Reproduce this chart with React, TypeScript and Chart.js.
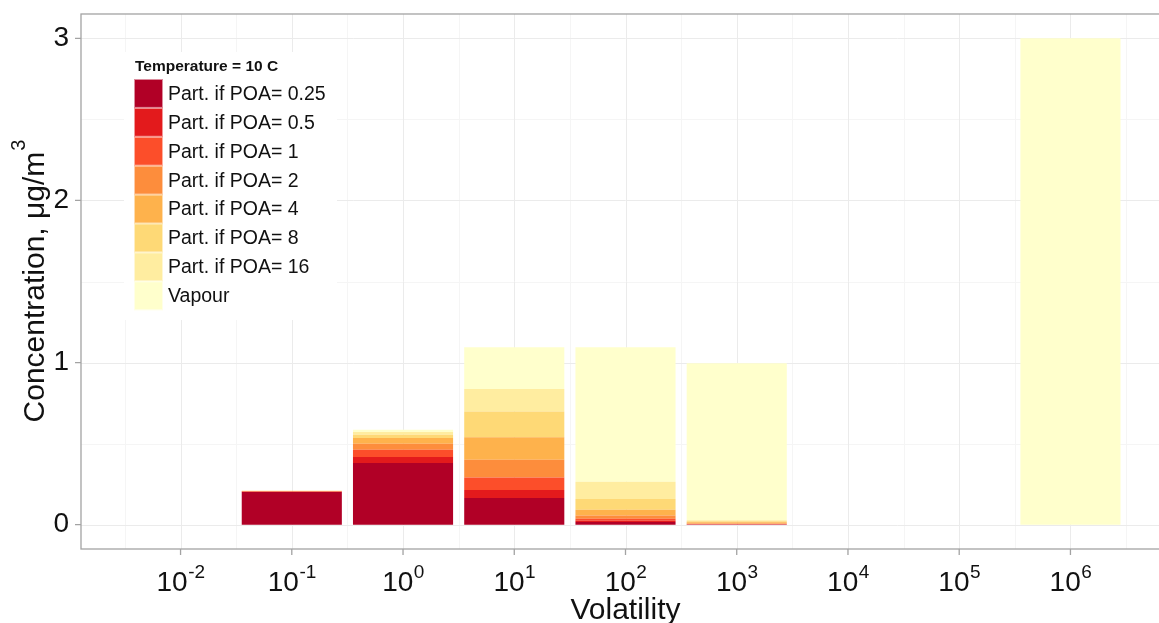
import React, { useEffect, useRef } from "react";
import { Chart, registerables } from "chart.js";

Chart.register(...registerables);

// ---- data ----
// bar centres, as log10(volatility)
const volatilityExponents = [-1, 0, 1, 2, 3, 6];
// x axis tick exponents (labels 10^n)
const axisExponents = [-2, -1, 0, 1, 2, 3, 4, 5, 6];
// y axis ticks
const yTicks = [0, 1, 2, 3];

const seriesLabels = [
  "Part. if POA= 0.25",
  "Part. if POA= 0.5",
  "Part. if POA= 1",
  "Part. if POA= 2",
  "Part. if POA= 4",
  "Part. if POA= 8",
  "Part. if POA= 16",
  "Vapour",
];
const seriesColors = [
  "#B10026",
  "#E31A1C",
  "#FC4E2A",
  "#FD8D3C",
  "#FEB24C",
  "#FED976",
  "#FFEDA0",
  "#FFFFCC",
];

const poa025 = [0.201, 0.38, 0.164, 0.017, 0.001, 0];
const poa05 = [0.002, 0.037, 0.05, 0.008, 0.001, 0];
const poa1 = [0.002, 0.045, 0.077, 0.012, 0.002, 0];
const poa2 = [0.002, 0.037, 0.109, 0.02, 0.004, 0];
const poa4 = [0.001, 0.035, 0.14, 0.035, 0.007, 0];
const poa8 = [0.001, 0.02, 0.158, 0.066, 0.006, 0];
const poa16 = [0.0005, 0.017, 0.139, 0.107, 0.006, 0];
const vapour = [0.0005, 0.014, 0.257, 0.829, 0.968, 3.0];

const seriesValues = [poa025, poa05, poa1, poa2, poa4, poa8, poa16, vapour];

const legendTitle = "Temperature = 10 C";
const xTitle = "Volatility";
const yTitleMain = "Concentration, \u03BCg/m";
const yTitleSup = "3";

const FONT = '"Liberation Sans", Arial, Helvetica, sans-serif';

const decorPlugin = {
  id: "decor",
  beforeDatasetsDraw(chart: any) {
    const { ctx, chartArea: a } = chart;
    const x = chart.scales.x;
    const y = chart.scales.y;
    ctx.save();
    ctx.beginPath();
    ctx.rect(a.left, a.top, a.right - a.left, a.bottom - a.top);
    ctx.clip();
    ctx.lineWidth = 1;
    // minor grid
    ctx.strokeStyle = "#F5F5F5";
    const minorX: number[] = [];
    axisExponents.forEach((e) => {
      minorX.push(e - 0.5, e + 0.5);
    });
    minorX.forEach((v) => {
      const px = Math.round(x.getPixelForValue(v)) + 0.5;
      ctx.beginPath();
      ctx.moveTo(px, a.top);
      ctx.lineTo(px, a.bottom);
      ctx.stroke();
    });
    const minorY: number[] = [];
    yTicks.forEach((t) => minorY.push(t - 0.5, t + 0.5));
    minorY.forEach((v) => {
      const py = Math.round(y.getPixelForValue(v)) + 0.5;
      ctx.beginPath();
      ctx.moveTo(a.left, py);
      ctx.lineTo(a.right, py);
      ctx.stroke();
    });
    // major grid
    ctx.strokeStyle = "#EBEBEB";
    axisExponents.forEach((v) => {
      const px = Math.round(x.getPixelForValue(v)) + 0.5;
      ctx.beginPath();
      ctx.moveTo(px, a.top);
      ctx.lineTo(px, a.bottom);
      ctx.stroke();
    });
    yTicks.forEach((v) => {
      const py = Math.round(y.getPixelForValue(v)) + 0.5;
      ctx.beginPath();
      ctx.moveTo(a.left, py);
      ctx.lineTo(a.right, py);
      ctx.stroke();
    });
    ctx.restore();
  },
  afterDatasetsDraw(chart: any) {
    const { ctx, chartArea: a } = chart;
    const x = chart.scales.x;
    const y = chart.scales.y;
    ctx.save();

    // legend
    const lx = a.left + 53;
    const ly = a.top + 65;
    const kw = 29;
    const kh = 28.9;
    ctx.fillStyle = "#ffffff";
    ctx.fillRect(a.left + 43, a.top + 38, 213, 268);
    ctx.fillStyle = "#111";
    ctx.font = `bold 15.5px ${FONT}`;
    ctx.textBaseline = "middle";
    ctx.textAlign = "left";
    ctx.fillText(legendTitle, lx + 1, a.top + 53);
    chart.data.datasets.forEach((ds: any, i: number) => {
      const top = ly + i * kh;
      ctx.fillStyle = ds.backgroundColor;
      ctx.fillRect(lx, top, kw, kh);
      ctx.strokeStyle = "rgba(255,255,255,0.55)";
      ctx.lineWidth = 1;
      ctx.strokeRect(lx + 0.5, top + 0.5, kw - 1, kh - 1);
      ctx.fillStyle = "#111";
      ctx.font = `19.5px ${FONT}`;
      ctx.fillText(ds.label, lx + 34, top + kh / 2 + 1);
    });

    // panel border
    ctx.strokeStyle = "#A3A3A3";
    ctx.lineWidth = 1.3;
    ctx.strokeRect(a.left, a.top, a.right - a.left, a.bottom - a.top);

    // tick marks
    ctx.beginPath();
    yTicks.forEach((t) => {
      const py = y.getPixelForValue(t);
      ctx.moveTo(a.left - 6, py);
      ctx.lineTo(a.left, py);
    });
    axisExponents.forEach((e) => {
      const px = x.getPixelForValue(e);
      ctx.moveTo(px, a.bottom);
      ctx.lineTo(px, a.bottom + 6);
    });
    ctx.stroke();

    // x tick labels 10^n
    ctx.fillStyle = "#111";
    ctx.textBaseline = "alphabetic";
    ctx.textAlign = "left";
    axisExponents.forEach((e) => {
      const px = x.getPixelForValue(e);
      ctx.font = `28px ${FONT}`;
      const w1 = ctx.measureText("10").width;
      ctx.font = `19px ${FONT}`;
      const sup = String(e);
      const w2 = ctx.measureText(sup).width;
      const start = px - (w1 + w2) / 2;
      ctx.font = `28px ${FONT}`;
      ctx.fillText("10", start, a.bottom + 41.5);
      ctx.font = `19px ${FONT}`;
      ctx.fillText(sup, start + w1 + 0.5, a.bottom + 28.5);
    });

    // x title
    ctx.font = `30px ${FONT}`;
    ctx.textAlign = "center";
    ctx.fillText(xTitle, (a.left + a.right) / 2, a.bottom + 70);

    // y title (rotated)
    ctx.translate(44, (a.top + a.bottom) / 2);
    ctx.rotate(-Math.PI / 2);
    ctx.textAlign = "left";
    ctx.font = `30px ${FONT}`;
    const wm = ctx.measureText(yTitleMain).width;
    ctx.font = `20px ${FONT}`;
    const ws = ctx.measureText(yTitleSup).width;
    const st = -(wm + ws) / 2;
    ctx.font = `30px ${FONT}`;
    ctx.fillText(yTitleMain, st, 0);
    ctx.font = `20px ${FONT}`;
    ctx.fillText(yTitleSup, st + wm + 1, -19);

    ctx.restore();
  },
};

export default function App() {
  const canvasRef = useRef<HTMLCanvasElement | null>(null);

  useEffect(() => {
    const canvas = canvasRef.current;
    if (!canvas) return;
    Chart.defaults.font.family = FONT;

    const datasets = seriesValues.map((vals, i) => ({
      label: seriesLabels[i],
      data: volatilityExponents.map((c, j) => ({ x: c, y: vals[j] })),
      backgroundColor: seriesColors[i],
      borderWidth: 0,
      categoryPercentage: 0.9,
      barPercentage: 1,
    }));

    const chart = new Chart(canvas, {
      type: "bar",
      data: { datasets },
      options: {
        animation: false,
        responsive: false,
        devicePixelRatio: 1,
        layout: { padding: { left: 0, top: 14, right: 10, bottom: 0 } },
        plugins: {
          legend: { display: false },
          tooltip: { enabled: false },
        },
        scales: {
          x: {
            type: "linear",
            stacked: true,
            offset: false,
            min: -2.895,
            max: 6.895,
            afterBuildTicks: (scale: any) => {
              scale.ticks = axisExponents.map((v) => ({ value: v }));
            },
            afterFit: (scale: any) => {
              scale.height = 74;
              scale.paddingLeft = 0;
              scale.paddingRight = 0;
              scale.paddingTop = 0;
              scale.paddingBottom = 0;
            },
            ticks: { display: false },
            grid: { display: false, drawTicks: false },
            border: { display: false },
          },
          y: {
            type: "linear",
            stacked: true,
            min: -0.15,
            max: 3.15,
            afterBuildTicks: (scale: any) => {
              scale.ticks = yTicks.map((v) => ({ value: v }));
            },
            afterFit: (scale: any) => {
              scale.width = 81;
              scale.paddingTop = 0;
              scale.paddingBottom = 0;
              scale.paddingLeft = 0;
              scale.paddingRight = 0;
            },
            ticks: {
              font: { size: 28, family: FONT },
              color: "#111",
              padding: 12,
            },
            grid: { display: false, drawTicks: false },
            border: { display: false },
          },
        },
      } as any,
      plugins: [decorPlugin],
    });

    return () => {
      chart.destroy();
    };
  }, []);

  return (
    <div
      style={{
        position: "absolute",
        left: 0,
        top: 0,
        width: 1159,
        height: 623,
        overflow: "hidden",
        background: "#fff",
      }}
    >
      <canvas
        ref={canvasRef}
        width={1180}
        height={623}
        style={{ width: 1180, height: 623, display: "block" }}
      />
    </div>
  );
}
